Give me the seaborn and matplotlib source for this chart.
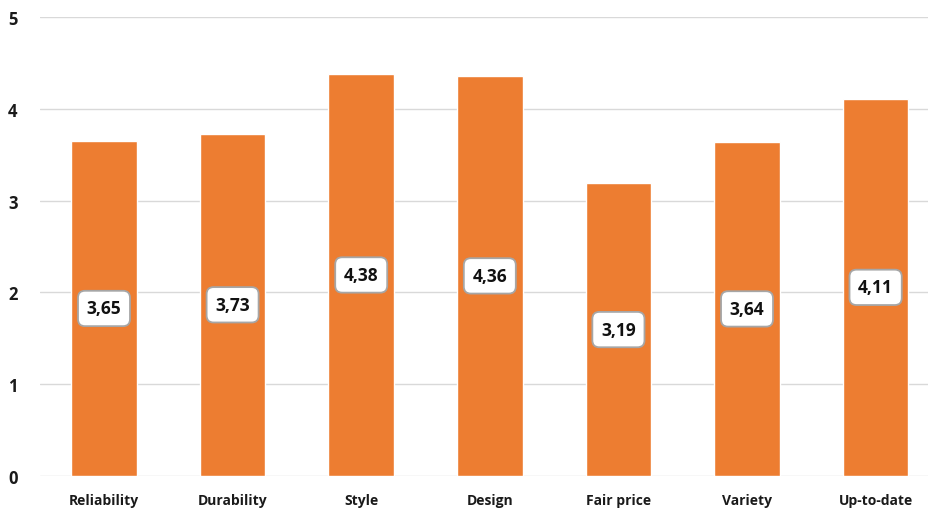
import matplotlib
matplotlib.use("Agg")
import matplotlib.pyplot as plt
import seaborn as sns
import pandas as pd

categories = ["Reliability", "Durability", "Style", "Design", "Fair price", "Variety", "Up-to-date"]
scores = [3.65, 3.73, 4.38, 4.36, 3.19, 3.64, 4.11]
y_ticks = [0, 1, 2, 3, 4, 5]

sns.set_theme(style="white")
plt.rcParams["font.family"] = ["Open Sans", "DejaVu Sans"]

df = pd.DataFrame({"category": categories, "score": scores})

fig = plt.figure(figsize=(9.29, 5.10), dpi=100)
ax = fig.add_axes([39.7 / 929, 33 / 510, (929 - 39.7) / 929, 459 / 510])

sns.barplot(data=df, x="category", y="score", color="#ED7D31", saturation=1,
            width=0.51, ax=ax, zorder=3)

ax.set_ylim(0, 5)
ax.set_xlim(-0.5, 6.415)
ax.set_yticks(y_ticks)
ax.set_yticklabels([str(t) for t in y_ticks], fontsize=12, fontweight="bold", color="#1a1a1a")
ax.yaxis.grid(True, color="#D9D9D9", linewidth=1, zorder=0)
ax.xaxis.grid(False)
ax.set_axisbelow(True)
for s in ax.spines.values():
    s.set_visible(False)
ax.tick_params(axis="y", length=0, pad=16)
ax.tick_params(axis="x", length=0, pad=12)
ax.set_xticks(range(len(categories)))
ax.set_xticklabels(categories, fontsize=10, fontweight="bold", color="#1a1a1a")
ax.set_xlabel("")
ax.set_ylabel("")

for i, v in enumerate(scores):
    ax.text(i, v / 2, f"{v:.2f}".replace(".", ","), ha="center", va="center",
            fontsize=12.5, fontweight="bold", color="#111111", zorder=5,
            bbox=dict(boxstyle="round,pad=0.5,rounding_size=0.4", fc="white",
                      ec="#A6A6A6", lw=1.3))

fig.savefig("out.png", dpi=100)
